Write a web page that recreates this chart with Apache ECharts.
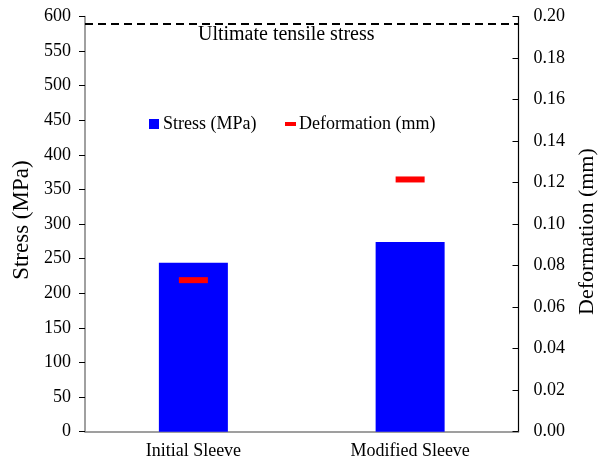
<!DOCTYPE html>
<html>
<head>
<meta charset="utf-8">
<script src="https://cdn.jsdelivr.net/npm/echarts@6/dist/echarts.min.js"></script>
<style>
  html, body { margin: 0; padding: 0; background: #fff; }
  #chart { width: 606px; height: 462px; }
</style>
</head>
<body>
<div id="chart"></div>
<script>
// Sleeve comparison: stress (bars, left axis) and deformation (markers, right axis)
const categories = ['Initial Sleeve', 'Modified Sleeve'];
const stressMPa = [244, 274];
const deformationMM = [0.073, 0.1215];
const ultimateTensileStress = 590;

const serif = 'Liberation Serif, Times New Roman, serif';

const chart = echarts.init(document.getElementById('chart'));
chart.setOption({
  animation: false,
  backgroundColor: '#fff',
  grid: { left: 85, right: 87.5, top: 16.5, bottom: 30.3 },
  legend: [
    {
      data: [{ name: 'Stress (MPa)', icon: 'rect' }],
      left: 144, top: 110,
      itemWidth: 10, itemHeight: 10,
      textStyle: { fontFamily: serif, fontSize: 18, color: '#000', padding: [0, 0, 0, -1] }
    },
    {
      data: [{ name: 'Deformation (mm)', icon: 'rect' }],
      left: 280, top: 110,
      itemWidth: 11, itemHeight: 4,
      textStyle: { fontFamily: serif, fontSize: 18, color: '#000', padding: [0, 0, 0, -2] }
    }
  ],
  xAxis: {
    type: 'category',
    data: categories,
    axisLine: { lineStyle: { color: '#808080', width: 1.5 } },
    axisTick: { show: false },
    axisLabel: { fontFamily: serif, fontSize: 18, color: '#000', margin: 11 }
  },
  yAxis: [
    {
      type: 'value', min: 0, max: 600, interval: 50,
      name: 'Stress (MPa)', nameLocation: 'middle', nameRotate: 90, nameGap: 50,
      nameTextStyle: { fontFamily: serif, fontSize: 23, color: '#000', padding: [0, 0, 0, 8] },
      axisLine: { show: true, lineStyle: { color: '#808080', width: 1.5 } },
      axisTick: { show: true, length: 6, lineStyle: { color: '#000' } },
      axisLabel: { fontFamily: serif, fontSize: 18, color: '#000', margin: 14 },
      splitLine: { show: false }
    },
    {
      type: 'value', min: 0, max: 0.2, interval: 0.02,
      position: 'right',
      name: 'Deformation (mm)', nameLocation: 'middle', nameRotate: 90, nameGap: 57,
      nameTextStyle: { fontFamily: serif, fontSize: 22, color: '#000', padding: [0, 15, 0, 0] },
      axisLine: { show: true, lineStyle: { color: '#000', width: 1.2 } },
      axisTick: { show: true, inside: true, length: 6, lineStyle: { color: '#000' } },
      axisLabel: {
        fontFamily: serif, fontSize: 18, color: '#000', margin: 15,
        formatter: v => v.toFixed(2)
      },
      splitLine: { show: false }
    }
  ],
  series: [
    {
      name: 'Stress (MPa)',
      type: 'bar',
      yAxisIndex: 0,
      data: stressMPa,
      barWidth: 69,
      itemStyle: { color: '#0000ff' },
      markLine: {
        silent: true,
        symbol: 'none',
        lineStyle: { color: '#000', type: [8, 5], width: 2 },
        label: {
          show: true,
          position: 'insideMiddleBottom',
          formatter: 'Ultimate tensile stress',
          fontFamily: serif, fontSize: 20, color: '#000',
          padding: [0, 31, 0, 0],
          distance: 1
        },
        data: [{ yAxis: ultimateTensileStress }]
      }
    },
    {
      name: 'Deformation (mm)',
      type: 'scatter',
      yAxisIndex: 1,
      data: deformationMM,
      symbol: 'rect',
      symbolSize: [29, 6],
      itemStyle: { color: '#ff0000', opacity: 1 }
    }
  ]
});
</script>
</body>
</html>
